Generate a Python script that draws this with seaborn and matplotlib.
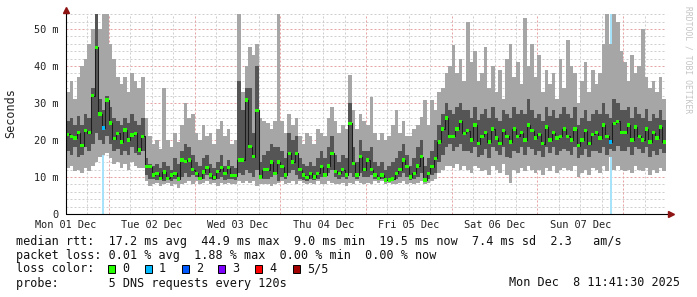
import numpy as np
import matplotlib
matplotlib.use("Agg")
import matplotlib.pyplot as plt
import seaborn as sns
from matplotlib.patches import Rectangle

# ---------------- data (ms), one value per hour, starting Mon 01 Dec 12:00 ----------------
hours = list(range(168))

rtt_min = [
    12.5, 13, 11.5, 12, 11, 12.5, 11.5, 13, 14, 15.5, 16, 16.5,
    15, 13.5, 14, 12.5, 13.5, 12, 14, 13, 12.5, 12.5, 9, 7.5,
    8, 8.5, 7.5, 8, 8.5, 7.5, 8, 7, 8, 8.5, 9, 8,
    9, 8, 8.5, 9, 8, 8.5, 7.5, 8.5, 8, 8.5, 8, 8,
    9, 8.5, 9, 8.5, 9, 7.5, 8, 8, 8, 7.5, 8, 8.5,
    9, 8, 8.5, 9, 8, 9, 8.5, 8, 8.5, 8, 9, 8,
    8, 9, 8.5, 8, 8, 8.5, 7.5, 8.5, 8, 9, 8.5, 8,
    8.5, 8, 9, 8.5, 9, 8, 8.5, 8, 8, 8.5, 9, 8,
    8.5, 8, 8.5, 9, 8, 8.5, 9, 9.5, 11, 12, 13, 13,
    12.5, 13.5, 12, 13, 12, 11, 13, 12.5, 11.5, 12, 10.5, 13,
    12, 11, 13.5, 10.5, 8.4, 12, 11, 12.5, 11.5, 13, 12, 11,
    12, 10.5, 12.5, 11.5, 13, 11, 12, 12.5, 12, 11.5, 13, 10,
    11, 12, 10.5, 12.5, 12, 11, 13, 11.5, 15.4, 12, 13, 12,
    11.5, 12, 11, 13, 12, 11.5, 12.5, 10.5, 12, 11, 12.5, 11.5,
]

rtt_q1 = [
    17, 16, 18, 15.5, 16, 18, 17, 19, 22, 20, 19, 21,
    19, 17, 17.5, 16, 17, 16, 18, 16.5, 16, 17, 10.5, 9.5,
    9.5, 9.2, 9.5, 9, 9.2, 9, 9.5, 9, 10, 11, 10, 10.5,
    10, 9.5, 9.5, 10.5, 9.5, 9.2, 9.5, 10, 9.2, 9.5, 9.5, 9.2,
    11, 10.5, 12, 11, 10, 12, 9.5, 9.5, 9.5, 10, 11, 9,
    10, 9.5, 11, 12, 10.5, 9.5, 9.2, 9, 9.5, 9.2, 9.5, 10,
    10, 11, 12, 10, 9.5, 10, 9.5, 11, 10, 9.5, 11, 10,
    10, 10.5, 9.5, 9.2, 9.5, 9.2, 9.2, 9.5, 9.5, 10, 11, 10,
    9.2, 9.5, 10, 11, 9.2, 9.5, 10.5, 11, 14, 16, 18, 19,
    17, 18, 19, 17, 17, 16.5, 18, 15.5, 16, 17.5, 15, 18,
    17, 16, 18, 15.5, 15, 17, 16.5, 18, 16, 18, 17.5, 16,
    17, 15.5, 18, 16.5, 18, 16, 17, 17.5, 17, 16, 18, 15,
    16, 17.5, 15.5, 17, 17, 16.5, 18, 16, 17.5, 17, 18.5, 17,
    17, 18, 16, 18, 17.5, 16.5, 18, 15.5, 17, 16, 17.5, 16.5,
]

rtt_median = [
    21.5, 21, 20.5, 22, 18.5, 22.5, 22, 32, 45, 27, 23.2, 30.8,
    24.6, 20.4, 21.8, 19.5, 22.7, 20, 21.4, 21.8, 17.3, 21, 12.8, 12.8,
    10.5, 11, 9.6, 11.4, 9.6, 10.5, 11, 9.5, 14.6, 14.2, 14.6, 12,
    11, 9.6, 11.4, 12.5, 10.5, 9.8, 11.5, 12.5, 11, 12.5, 10.4, 10.4,
    14.6, 14.6, 30.8, 18.2, 15.5, 28, 10, 12, 12, 14.1, 11, 14.1,
    12.8, 10.5, 16.4, 14, 16.4, 12, 10.5, 9.8, 11, 10, 11, 12.8,
    10.5, 13, 16.4, 11.5, 11, 12, 10.5, 24.5, 13.7, 10.5, 15.5, 12,
    14.6, 12, 10.5, 9.6, 10.5, 9.2, 9.2, 9.5, 11, 12, 14.6, 12.8,
    10, 11, 13, 15.5, 9.2, 11, 12.8, 15, 19.5, 23, 25.9, 21,
    21, 23, 25, 21.8, 22.5, 20, 24, 19, 21, 22, 19.5, 23,
    20.5, 19, 22.5, 21, 19.5, 23, 21, 22, 20, 24, 22.5, 20.5,
    21.5, 19, 23.5, 20, 22, 20.5, 21, 23, 21, 20, 23, 18.5,
    20, 22.5, 19, 21.5, 22, 20.5, 24, 21, 19.5, 24.5, 25, 22,
    22, 24, 20, 23.5, 21, 20, 23, 19.5, 22, 20.5, 23.5, 19.5,
]

rtt_q3 = [
    25, 26, 24, 26.5, 24, 27, 26, 34, 54, 31, 28, 32,
    29, 26, 25, 24, 26, 24.5, 27, 25, 24, 26, 15, 13.5,
    13, 13.5, 12.5, 14, 13, 12, 15, 13.5, 17, 19, 18, 16,
    14, 13, 15, 16, 13.5, 12.5, 14, 16, 13, 14.5, 13, 12.5,
    36, 28, 34, 34, 22, 40, 14, 16, 17, 19, 18, 18,
    17, 15, 22, 20, 21, 15, 13.5, 13, 14, 13, 15, 17,
    15, 18, 21, 16, 14, 16, 15, 30, 18, 14, 20, 17,
    17, 18, 14, 13, 14, 12, 13, 14, 15, 17, 19, 16,
    13, 15, 18, 20, 13, 15, 17, 20, 24, 27, 30, 28,
    27, 29, 30, 28, 28, 26, 29, 25.5, 27, 28.5, 26, 29,
    26, 25, 28, 27, 26, 29, 27, 28, 27, 31, 28, 26,
    27, 25, 29, 26.5, 28, 26, 27, 29, 27, 26, 29, 24,
    26, 28, 25, 27, 28, 27, 30, 27, 26, 31, 30, 28,
    28, 29, 26, 29, 27, 26, 28.5, 25, 27, 26, 28, 25.5,
]

rtt_max = [
    33, 36, 31, 37, 40, 42, 46, 50, 54, 50, 54, 54,
    46, 42, 37, 35, 37, 33, 38, 36, 34, 37, 26, 21,
    19, 20, 17.5, 34, 20, 18, 22, 19.5, 24, 30, 26, 27,
    22, 20, 24, 21, 22, 19, 23, 25, 21, 23, 19, 20,
    54, 33, 40, 45, 43, 46, 26, 25, 24.5, 23, 25, 54,
    25, 22, 27, 24, 26, 21, 19, 22, 21, 19, 23, 22,
    21, 26, 29, 25, 22, 24, 23, 37.6, 28, 23, 27, 25,
    24, 31.7, 22, 20, 22, 20, 21, 24, 28, 22, 25, 21,
    21, 23, 24, 26.3, 30.8, 24, 30.8, 28, 33, 34, 38, 40,
    45.7, 38, 42, 36, 52, 41, 44, 36, 38, 45, 34, 40,
    33, 39, 31, 42, 46, 37, 41, 35, 53, 40, 46, 37,
    43, 33, 39, 35, 38, 31, 42, 34, 47, 40, 38, 30,
    36, 41, 33, 39, 35, 38, 46, 54, 46, 54, 52, 44,
    41, 36, 43, 38, 40, 50, 37, 34, 36, 33, 37, 31,
]

loss_bins = [10, 152]          # hours with lost pings
loss_counts = [1, 1]           # pings lost (of 5)

day_ticks = [0, 24, 48, 72, 96, 120, 144]
day_labels = ["Mon 01 Dec", "Tue 02 Dec", "Wed 03 Dec", "Thu 04 Dec",
              "Fri 05 Dec", "Sat 06 Dec", "Sun 07 Dec"]
y_ticks = [0, 10, 20, 30, 40, 50]
y_labels = ["0", "10 m", "20 m", "30 m", "40 m", "50 m"]

loss_names = ["0", "1", "2", "3", "4", "5/5"]
loss_colors = ["#26ff00", "#00b8ff", "#0059ff", "#7e00ff", "#ff0000", "#a10000"]
loss_bg_colors = ["#ffffff", "#a6e3fb", "#a6c4ff", "#d5a6ff", "#ffa6a6", "#d9a6a6"]

legend_lines = [
    "median rtt:  17.2 ms avg  44.9 ms max  9.0 ms min  19.5 ms now  7.4 ms sd  2.3   am/s",
    "packet loss: 0.01 % avg  1.88 % max  0.00 % min  0.00 % now",
    "loss color:",
    "probe:       5 DNS requests every 120s",
]
timestamp = "Mon Dec  8 11:41:30 2025"

# ---------------- style ----------------
sns.set_style("white")
plt.rcParams["font.family"] = ["DejaVu Sans Mono", "DejaVu Sans"]

W, H = 697, 297
fig = plt.figure(figsize=(W / 100, H / 100), dpi=100)
fig.patch.set_facecolor("white")
ax = fig.add_axes([66 / W, (H - 214) / H, 600 / W, 200 / H])
ax.set_facecolor("white")
ax.set_xlim(0, 168)
ax.set_ylim(0, 54.05)

minor_c = "#cfcfcf"
major_c = "#e6a3a3"
dots = (0, (2, 2))
for yv in np.arange(2, 54.05, 2):
    c = major_c if int(round(yv)) % 10 == 0 else minor_c
    ax.axhline(yv, color=c, lw=0.72, ls=dots, zorder=0)
for xv in np.arange(6, 168, 6):
    c = major_c if int(xv) % 24 == 12 else minor_c
    ax.axvline(xv, color=c, lw=0.72, ls=dots, zorder=0)

# loss background bars
for b, n in zip(loss_bins, loss_counts):
    ax.axvspan(b + 0.2, b + 0.75, color=loss_bg_colors[n], lw=0, zorder=1)

xs = np.append(np.array(hours, dtype=float), 168.0)
def ext(a):
    return np.append(np.array(a, dtype=float), a[-1])

ax.fill_between(xs, ext(rtt_min), ext(rtt_max), step="post",
                color="#a6a6a6", lw=0, zorder=2, antialiased=False)
ax.fill_between(xs, ext(rtt_q1), ext(rtt_q3), step="post",
                color="#555555", lw=0, zorder=3, antialiased=False)

centers = np.array(hours) + 0.5
sns.lineplot(x=centers, y=rtt_median, drawstyle="steps-mid", color="#1c1c1c",
             lw=0.75, ax=ax, zorder=4, estimator=None, sort=False)

loss_map = dict(zip(loss_bins, loss_counts))
point_loss = [loss_names[loss_map.get(h, 0)] for h in hours]
sns.scatterplot(x=centers, y=rtt_median, hue=point_loss,
                palette=dict(zip(loss_names, loss_colors)),
                marker="s", s=6, linewidth=0, legend=False, ax=ax, zorder=5)

# axes lines + arrows
for s in ax.spines.values():
    s.set_visible(False)
ax.plot([0, 0], [0, 1.015], transform=ax.transAxes, color="black",
        lw=0.8, clip_on=False, zorder=6)
ax.plot([0, 1.004], [0, 0], transform=ax.transAxes, color="black",
        lw=0.8, clip_on=False, zorder=6)
ax.plot([0], [1.02], marker="^", color="#8e1414", markersize=4.5,
        transform=ax.transAxes, clip_on=False, zorder=7)
ax.plot([1.008], [0], marker=">", color="#8e1414", markersize=4.5,
        transform=ax.transAxes, clip_on=False, zorder=7)

ax.set_xticks(day_ticks)
ax.set_xticklabels(day_labels)
ax.set_yticks(y_ticks)
ax.set_yticklabels(y_labels)
ax.tick_params(axis="both", length=0, labelsize=7.4, colors="#222222")
ax.tick_params(axis="x", pad=4.5)
ax.tick_params(axis="y", pad=5.5)
ax.set_xlabel("")
ax.set_ylabel("")

fig.text(11 / W, 1 - 113 / H, "Seconds", rotation=90, ha="center", va="center",
         fontsize=8.5, color="#222222")
fig.text(688 / W, 1 - 60 / H, "RRDTOOL / TOBI OETIKER", rotation=270,
         ha="center", va="center", fontsize=5.8, color="#c4c4c4")

row_y = [241, 255, 269, 283]
for txt, y in zip(legend_lines, row_y):
    fig.text(16 / W, 1 - y / H, txt, ha="left", va="center", fontsize=8.5,
             color="#111111")
fig.text(680 / W, 1 - 283 / H, timestamp, ha="right", va="center",
         fontsize=8.5, color="#111111")

sq_x = [108, 145, 182, 218, 255, 293]
lab_x = [122, 159, 196, 232, 269, 307]
for c, name, sx, lx in zip(loss_colors, loss_names, sq_x, lab_x):
    fig.patches.append(Rectangle((sx / W, 1 - 273 / H), 7 / W, 8 / H,
                                 transform=fig.transFigure, facecolor=c,
                                 edgecolor="black", lw=0.7))
    fig.text(lx / W, 1 - 269 / H, name, ha="left", va="center",
             fontsize=8.5, color="#111111")

fig.savefig("out.png", dpi=100, facecolor="white")
